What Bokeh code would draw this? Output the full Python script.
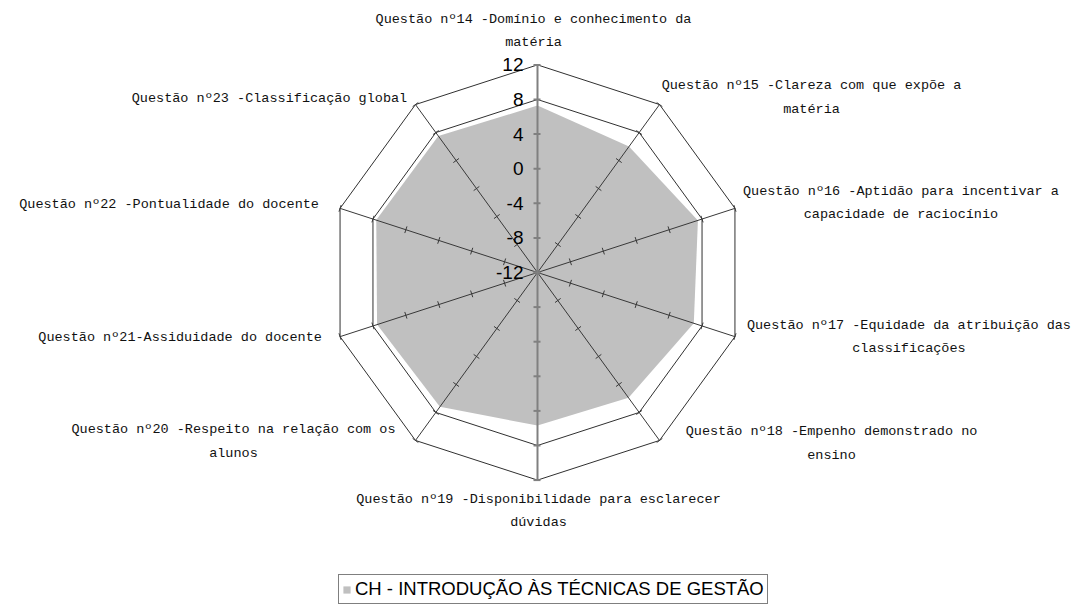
import numpy as np
from bokeh.plotting import figure
from bokeh.models import Range1d, Legend, LegendItem, ColumnDataSource
from bokeh.embed import file_html
from bokeh.resources import INLINE
from bokeh.core.properties import value

# ---------------- data ----------------
categories = [
    "Questão nº14 -Domínio e conhecimento da\nmatéria",
    "Questão nº15 -Clareza com que expõe a\nmatéria",
    "Questão nº16 -Aptidão para incentivar a\ncapacidade de raciocínio",
    "Questão nº17 -Equidade da atribuição das\nclassificações",
    "Questão nº18 -Empenho demonstrado no\nensino",
    "Questão nº19 -Disponibilidade para esclarecer\ndúvidas",
    "Questão nº20 -Respeito na relação com os\nalunos",
    "Questão nº21-Assiduidade do docente",
    "Questão nº22 -Pontualidade do docente",
    "Questão nº23 -Classificação global",
]
series_name = "CH - INTRODUÇÃO ÀS TÉCNICAS DE GESTÃO"
values = [7.3, 6.0, 7.5, 7.0, 5.9, 5.7, 7.2, 7.5, 7.6, 7.5]
tick_values = [-12, -8, -4, 0, 4, 8, 12]
ring_values = [8, 12]
axis_min, axis_max = -12, 12

# ---------------- layout / style ----------------
W, H = 1076, 612
PX = 8.65            # pixels per value unit
CX, CY = 537, 272    # centre of radar in figure pixels (from top-left)
# label block-centre offsets from the outer vertex, in pixels (right, up)
label_dx = [-4, 152, 166, 174, 172, 1, -182, -160, -171, -146]
label_dy = [34, 7, 5, 0, -3, -31, -1, -1, 4, 6]
grey_axes = [0, 5]   # spokes drawn like the value axis (vertical line)

n = len(categories)
theta = np.arange(n) * 2 * np.pi / n
sin_t, cos_t = np.sin(theta), np.cos(theta)


def rad(v):
    return np.asarray(v, dtype=float) - axis_min


p = figure(width=W, height=H, output_backend="svg", toolbar_location=None,
           x_range=Range1d(-CX / PX, (W - CX) / PX),
           y_range=Range1d(-(H - CY) / PX, CY / PX),
           x_axis_type=None, y_axis_type=None, min_border=0)
p.grid.visible = False
p.outline_line_color = None
p.background_fill_color = "white"

# filled series
r_vals = rad(values)
patch_r = p.patch(list(r_vals * sin_t), list(r_vals * cos_t),
                  fill_color="#C0C0C0", line_color=None)

# rings
ring_xs, ring_ys = [], []
for rv in ring_values:
    rr = rad(rv)
    ring_xs.append(list(np.append(rr * sin_t, rr * sin_t[0])))
    ring_ys.append(list(np.append(rr * cos_t, rr * cos_t[0])))
p.multi_line(ring_xs, ring_ys, line_color="#303030", line_width=1)

R = rad(axis_max)
dark = [i for i in range(n) if i not in grey_axes]

# dark spokes
p.segment(x0=[0] * len(dark), y0=[0] * len(dark),
          x1=list(R * sin_t[dark]), y1=list(R * cos_t[dark]),
          line_color="#383838", line_width=1)

# tick marks along dark spokes
h = 3.5 / PX
tx0, ty0, tx1, ty1 = [], [], [], []
for i in dark:
    for tv in tick_values[1:]:
        rr = rad(tv)
        px_, py_ = rr * sin_t[i], rr * cos_t[i]
        ux, uy = cos_t[i], -sin_t[i]
        tx0.append(px_ - h * ux); ty0.append(py_ - h * uy)
        tx1.append(px_ + h * ux); ty1.append(py_ + h * uy)
p.segment(tx0, ty0, tx1, ty1, line_color="#383838", line_width=1)

# grey vertical axis (Q14 up, Q19 down)
p.segment(x0=[0] * len(grey_axes), y0=[0] * len(grey_axes),
          x1=list(R * sin_t[grey_axes]), y1=list(R * cos_t[grey_axes]),
          line_color="#808080", line_width=2)
gx0, gy, gx1 = [], [], []
for i in grey_axes:
    for tv in tick_values:
        gy.append(float(rad(tv) * cos_t[i]))
        gx0.append(-4 / PX); gx1.append(3 / PX)
p.segment(x0=gx0, y0=gy, x1=gx1, y1=gy, line_color="#808080", line_width=2)

# value axis labels
ty = list(rad(tick_values))
p.text(x=[-14 / PX] * len(ty), y=ty, text=[str(t) for t in tick_values],
       text_align="right", text_baseline="middle",
       text_font=value("Liberation Sans"), text_font_size="19px",
       text_color="#000000")

# category labels
lx = R * sin_t + np.array(label_dx) / PX
ly = R * cos_t + np.array(label_dy) / PX
src = ColumnDataSource(dict(x=list(lx), y=list(ly), text=categories))
p.text(x="x", y="y", text="text", source=src,
       text_align="center", text_baseline="middle",
       text_font=value("Liberation Mono"), text_font_size="13.5px",
       text_line_height=1.55, text_color="#111111")

legend = Legend(items=[LegendItem(label=series_name, renderers=[patch_r])],
                location=(338, 8), orientation="vertical",
                border_line_color="#000000", border_line_width=1,
                background_fill_color="white", background_fill_alpha=1,
                padding=3, margin=0, spacing=0,
                glyph_width=9, glyph_height=9, label_standoff=4,
                label_text_font="Liberation Sans", label_text_font_size="18.5px",
                label_height=18, label_text_color="#000000")
p.add_layout(legend)

open("out.html", "w").write(file_html(p, INLINE))
